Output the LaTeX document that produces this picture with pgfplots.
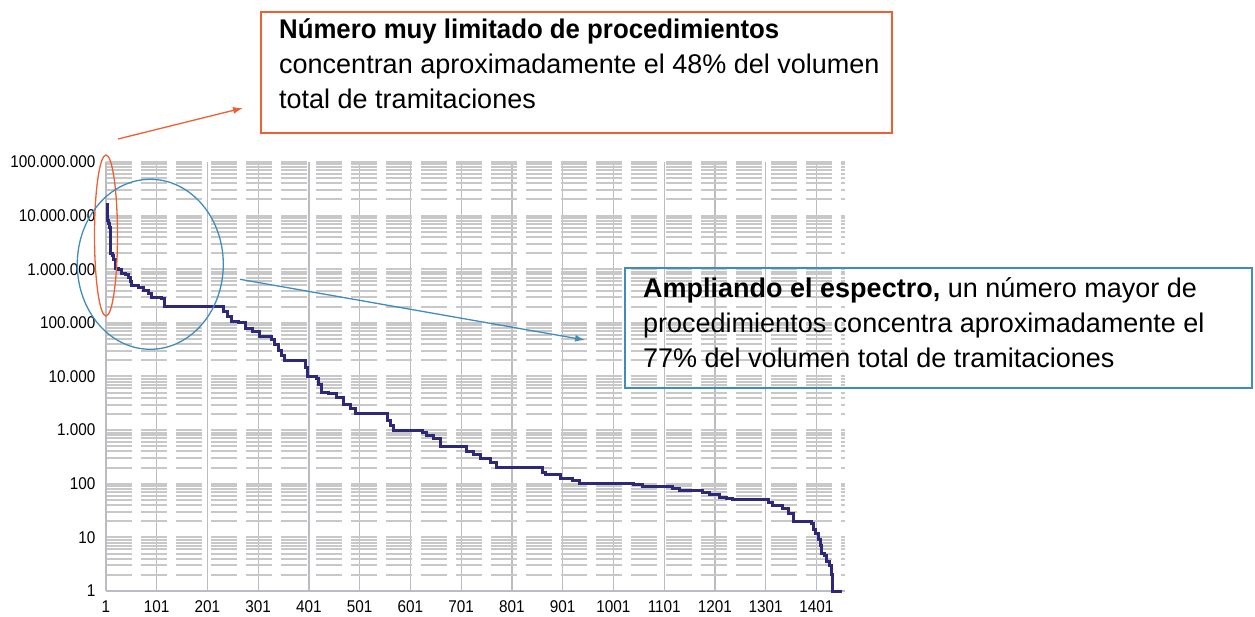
\documentclass[border=0pt]{standalone}
\usepackage{fontspec}
\setmainfont{Liberation Sans}
\newfontfamily\tickfont[FakeStretch=0.9]{Liberation Sans}
\newfontfamily\narrowfont[FakeStretch=0.955]{Liberation Sans}
\usepackage{pgfplots}
\pgfplotsset{compat=1.18}
\usetikzlibrary{arrows.meta}
\definecolor{navy}{RGB}{45,40,120}
\definecolor{gridc}{RGB}{200,200,200}
\definecolor{vgrid}{RGB}{188,188,196}
\definecolor{orng}{RGB}{240,95,50}
\definecolor{blu}{RGB}{65,140,190}
\begin{document}
\begin{tikzpicture}[x=1pt,y=1pt]
\useasboundingbox (0,0) rectangle (1255,616);
\begin{axis}[at={(106pt,25pt)}, anchor=south west, scale only axis,
  width=738.9pt, height=429pt,
  xmin=1, xmax=1457, ymin=1, ymax=1e8, ymode=log,
  axis x line*=bottom, axis y line*=left,
  axis line style={vgrid, line width=1.3pt},
  xtick={1,101,201,301,401,501,601,701,801,901,1001,1101,1201,1301,1401},
  xticklabels={1,101,201,301,401,501,601,701,801,901,1001,1101,1201,1301,1401},
  ytick={1,10,100,1000,10000,100000,1000000,10000000,100000000},
  yticklabels={1,10,100,1.000,10.000,100.000,1.000.000,10.000.000,100.000.000},
  minor ytick={2,3,4,5,6,7,8,9,20,30,40,50,60,70,80,90,200,300,400,500,600,700,800,900,
    2000,3000,4000,5000,6000,7000,8000,9000,20000,30000,40000,50000,60000,70000,80000,90000,
    200000,300000,400000,500000,600000,700000,800000,900000,
    2000000,3000000,4000000,5000000,6000000,7000000,8000000,9000000,
    20000000,30000000,40000000,50000000,60000000,70000000,80000000,90000000},
  major tick length=0pt, minor tick length=0pt,
  xmajorgrids, ymajorgrids, yminorgrids,
  major x grid style={vgrid, line width=1.3pt},
  major y grid style={gridc, line width=2pt, dash pattern=on 26pt off 9pt},
  minor y grid style={gridc, line width=2pt, dash pattern=on 26pt off 9pt},
  tick label style={font=\tickfont\fontsize{17}{17}\selectfont},
  xticklabel style={yshift=-6pt},
  yticklabel style={xshift=-7pt},
  clip=false,
]
\addplot[navy, line width=3pt, const plot] coordinates {
(1,1.6e7) (3,1.5e7) (4,8e6) (6,7e6) (8,6e6) (9,2e6) (13,1.8e6) (16,1.5e6) (19,1.05e6)
(25,1e6) (32,8.5e5) (40,8e5) (45,7e5) (50,6e5) (52,5e5) (65,4.5e5) (75,4e5) (85,3.5e5)
(90,3e5) (111,2.8e5) (117,2e5) (232,1.6e5) (240,1.3e5) (249,1.05e5) (262,1e5) (275,8e4)
(290,7e4) (304,5.5e4) (327,5e4) (334,4e4) (340,3e4) (346,2.5e4) (352,2e4) (394,1.5e4)
(398,1e4) (416,9e3) (420,7e3) (426,5e3) (440,4.8e3) (456,4e3) (469,3e3) (482,2.5e3)
(492,2e3) (556,1.5e3) (562,1.2e3) (568,1e3) (625,900) (633,800) (646,700) (660,500)
(712,400) (725,350) (738,300) (758,250) (771,200) (862,160) (868,150) (896,126) (921,115)
(935,100) (1040,95) (1059,90) (1118,80) (1132,75) (1177,70) (1191,62) (1210,55) (1224,52)
(1236,50) (1306,45) (1315,40) (1335,35) (1345,28) (1355,20) (1391,18) (1396,14) (1400,12)
(1404,9) (1408,7) (1411,5) (1416,4.5) (1421,3.5) (1426,3) (1431,2) (1433,1) (1451,1)
};
\end{axis}
% annotations
\draw[orng, line width=1.5pt] (261,483) rectangle (892,604);
\begin{scope}[every node/.style={anchor=base west, inner sep=0pt, font=\fontsize{27}{35}\selectfont}]
\node at (279,577) {\narrowfont\bfseries Número muy limitado de procedimientos};
\node at (279,542) {concentran aproximadamente el 48\% del volumen};
\node at (279,507) {total de tramitaciones};
\end{scope}
\draw[blu, line width=1.5pt] (625,228) rectangle (1252,348);
\begin{scope}[every node/.style={anchor=base west, inner sep=0pt, font=\fontsize{27}{35}\selectfont}]
\node at (643,318) {\textbf{Ampliando el espectro,} un número mayor de};
\node at (643,283) {procedimientos concentra aproximadamente el};
\node at (643,248) {77\% del volumen total de tramitaciones};
\end{scope}
\draw[orng, line width=1.3pt] (106,380.5) ellipse [x radius=11.5pt, y radius=80.5pt];
\draw[blu, line width=1.3pt] (150.3,351.7) ellipse [x radius=73pt, y radius=85pt];
\draw[orng, line width=1.3pt, -{Latex[length=10pt,width=7pt]}] (118,477) -- (243,508);
\draw[blu, line width=1.3pt, -{Latex[length=10pt,width=7pt]}] (240,336.7) -- (585,276);
\end{tikzpicture}
\end{document}
